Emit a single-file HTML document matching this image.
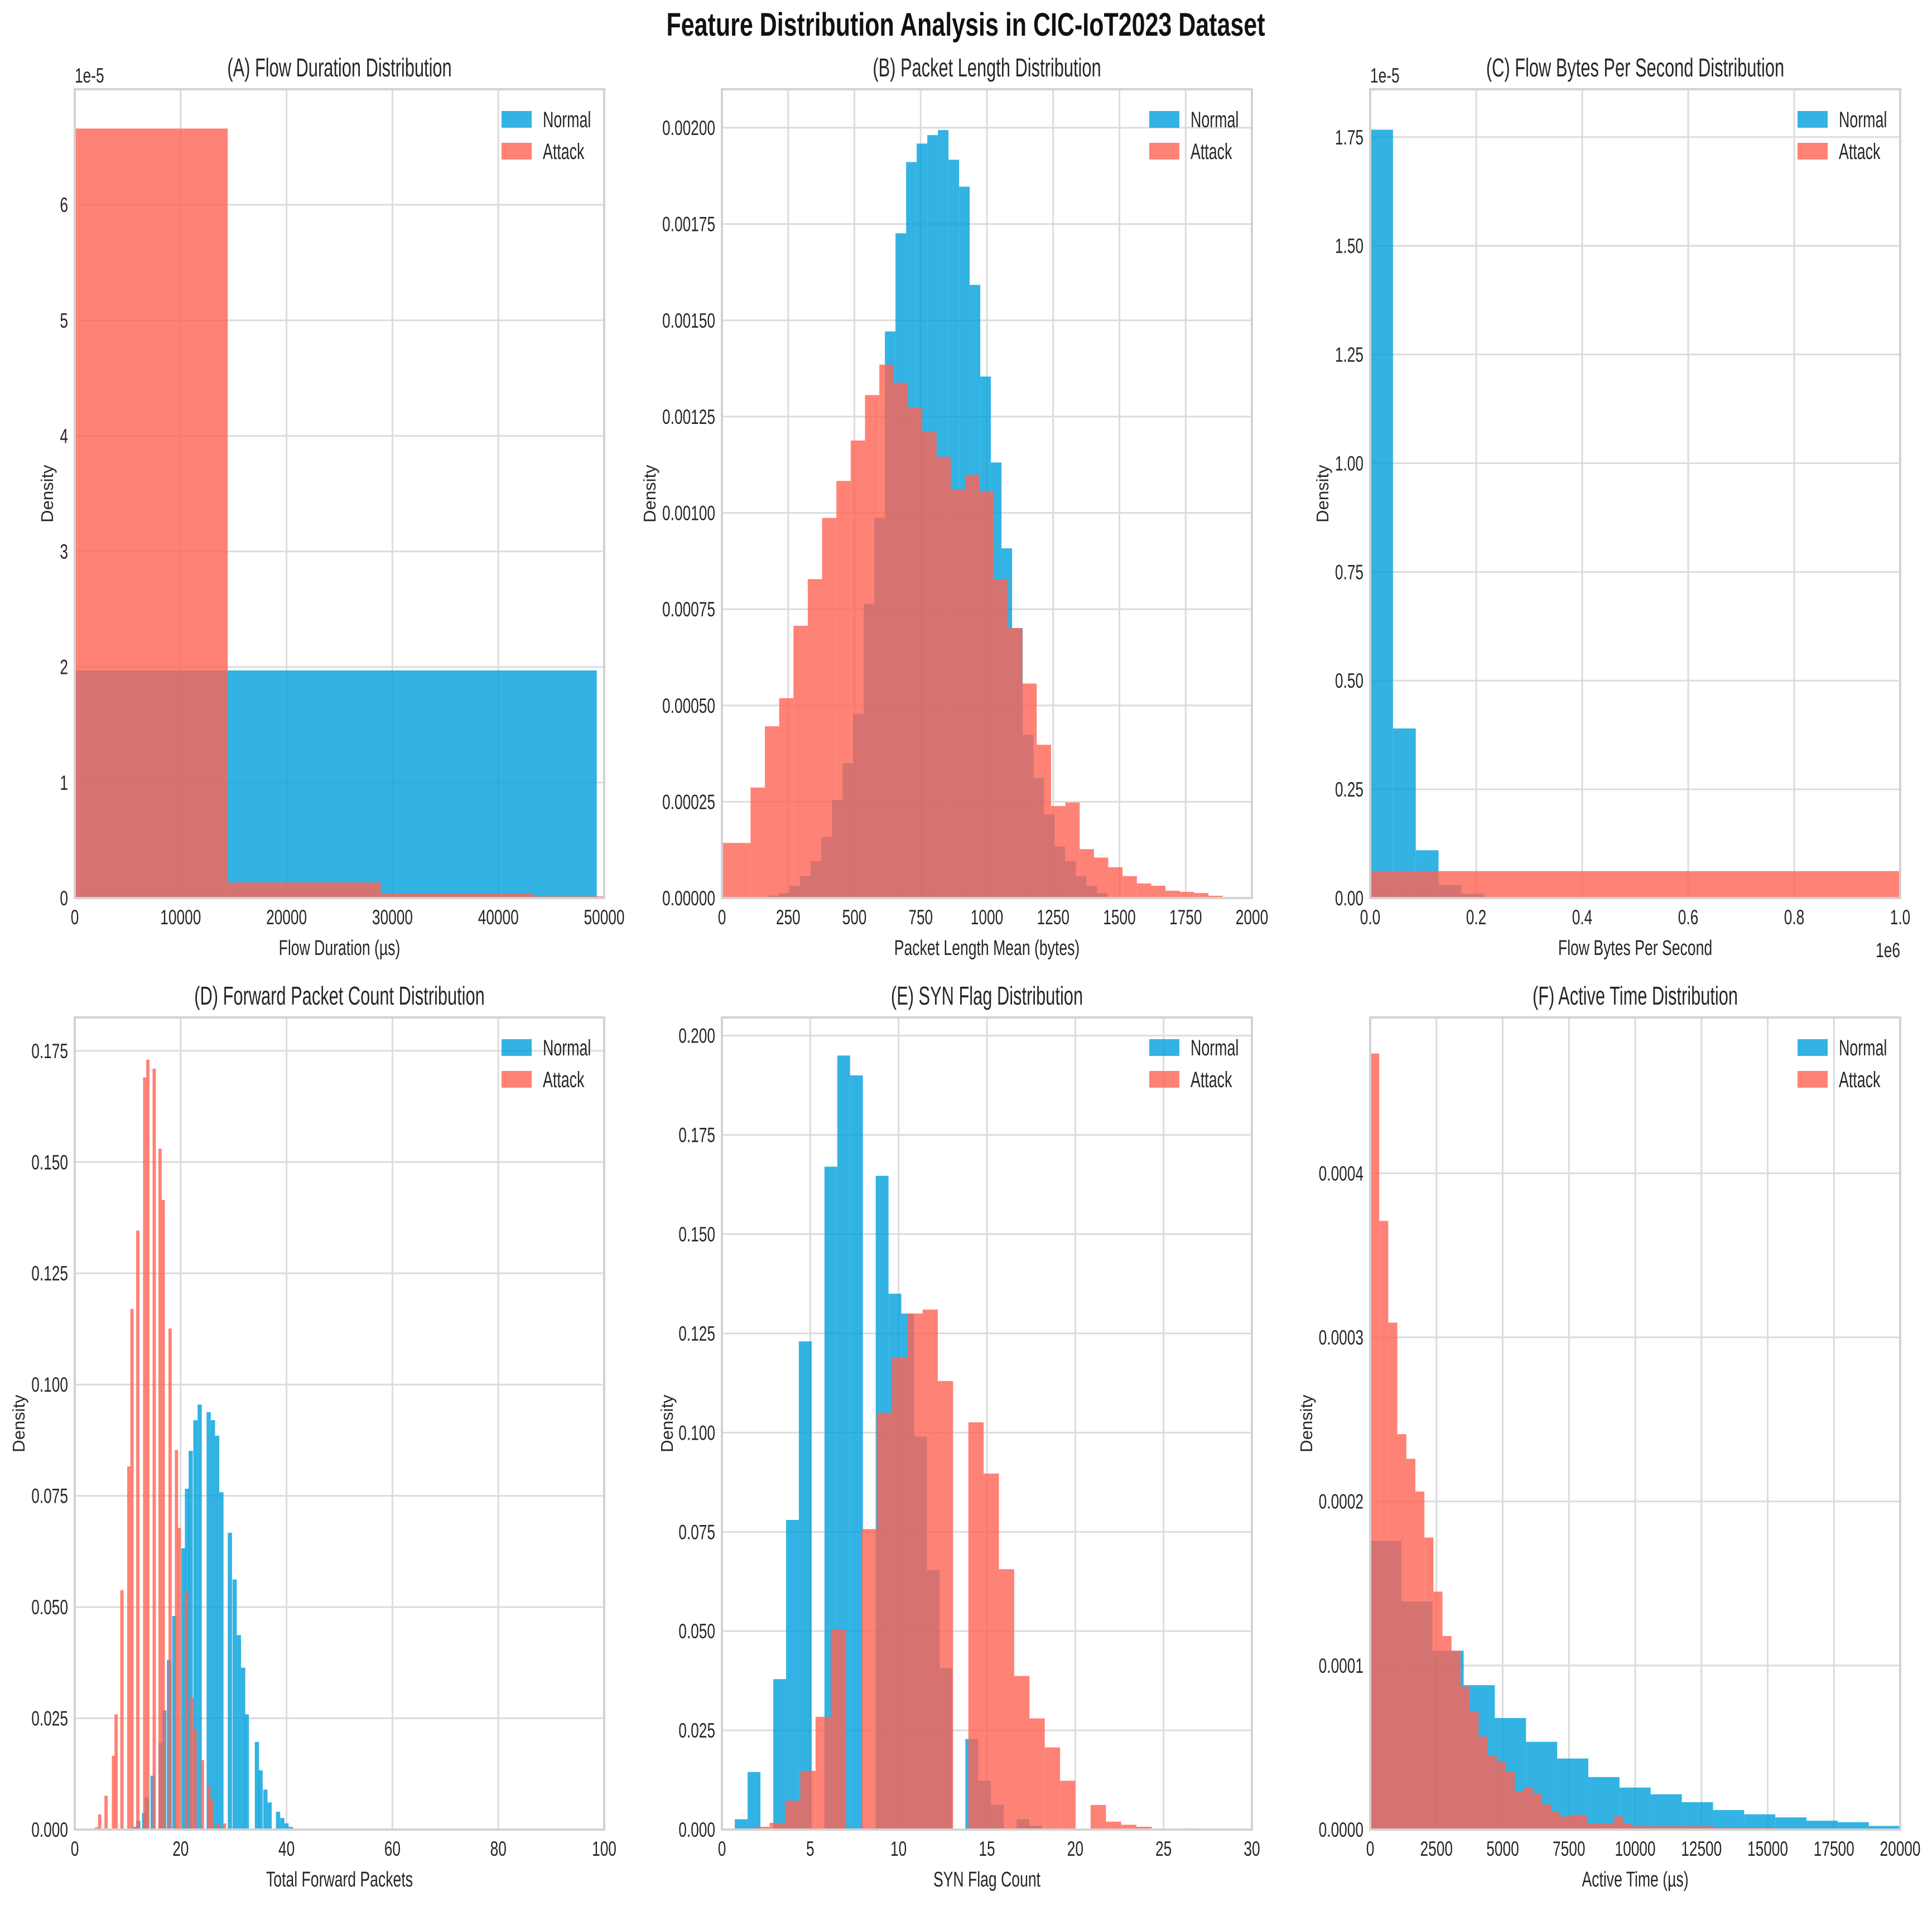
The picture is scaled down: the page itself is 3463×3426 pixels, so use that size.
<!DOCTYPE html>
<html><head><meta charset="utf-8"><title>Feature Distribution Analysis in CIC-IoT2023 Dataset</title>
<style>
html,body{margin:0;padding:0;background:#fff;}
svg{display:block;font-family:"Liberation Sans",sans-serif;}
</style></head>
<body>
<svg id="fig" xmlns="http://www.w3.org/2000/svg" width="3463" height="3426" viewBox="0 0 3463 3426"></svg>
<script>
// ---------- DATA ----------
const aNormalStart = 0, aNormalWidth = 49300;
const aNormalValues = [1.97];
const aAttackStart = 0, aAttackWidth = 14450;
const aAttackValues = [6.66, 0.135, 0.04, 0.015];
const aXTicks = [0, 10000, 20000, 30000, 40000, 50000];
const aXTickLabels = ["0", "10000", "20000", "30000", "40000", "50000"];
const aYTicks = [0, 1, 2, 3, 4, 5, 6];
const aYTickLabels = ["0", "1", "2", "3", "4", "5", "6"];

const bNormalStart = 175, bNormalWidth = 40;
const bNormalValues = [0.06e-4,0.13e-4,0.32e-4,0.57e-4,0.96e-4,1.59e-4,2.55e-4,3.50e-4,4.78e-4,7.64e-4,9.87e-4,14.71e-4,17.26e-4,19.11e-4,19.59e-4,19.81e-4,19.94e-4,19.17e-4,18.47e-4,15.92e-4,13.54e-4,11.31e-4,9.08e-4,7.01e-4,4.24e-4,3.12e-4,2.17e-4,1.34e-4,0.96e-4,0.57e-4,0.32e-4,0.13e-4];
const bAttackStart = 0, bAttackWidth = 54;
const bAttackValues = [1.43e-4,1.43e-4,2.87e-4,4.46e-4,5.19e-4,7.07e-4,8.28e-4,9.87e-4,10.83e-4,11.88e-4,13.06e-4,13.85e-4,13.38e-4,12.74e-4,12.10e-4,11.46e-4,10.61e-4,10.99e-4,10.57e-4,8.28e-4,7.01e-4,5.57e-4,3.98e-4,2.39e-4,2.48e-4,1.27e-4,1.05e-4,0.80e-4,0.57e-4,0.38e-4,0.32e-4,0.19e-4,0.16e-4,0.13e-4,0.06e-4];
const bXTicks = [0,250,500,750,1000,1250,1500,1750,2000];
const bXTickLabels = ["0","250","500","750","1000","1250","1500","1750","2000"];
const bYTicks = [0,0.00025,0.0005,0.00075,0.001,0.00125,0.0015,0.00175,0.002];
const bYTickLabels = ["0.00000","0.00025","0.00050","0.00075","0.00100","0.00125","0.00150","0.00175","0.00200"];

const cNormalStart = 0, cNormalWidth = 0.043;
const cNormalValues = [1.767, 0.39, 0.11, 0.03, 0.01];
const cAttackStart = 0, cAttackWidth = 1.0;
const cAttackValues = [0.062];
const cXTicks = [0, 0.2, 0.4, 0.6, 0.8, 1.0];
const cXTickLabels = ["0.0","0.2","0.4","0.6","0.8","1.0"];
const cYTicks = [0,0.25,0.5,0.75,1.0,1.25,1.5,1.75];
const cYTickLabels = ["0.00","0.25","0.50","0.75","1.00","1.25","1.50","1.75"];

const dNormalLefts = [11.1,11.6,12.7,13.2,14.3,15.8,16.5,17.4,18.4,20.1,20.8,21.5,22.4,23.2,24.9,25.7,26.5,27.3,28.9,29.8,30.6,31.4,32.1,34.0,34.7,35.6,36.4,38.0,38.8,39.6,40.4];
const dNormalWidth = 0.8;
const dNormalValues = [0.0006,0.002,0.0037,0.0072,0.0121,0.0195,0.0268,0.0381,0.048,0.0632,0.0766,0.0851,0.092,0.0955,0.0938,0.092,0.0885,0.0758,0.0667,0.0562,0.0437,0.0364,0.0259,0.0197,0.0133,0.009,0.0061,0.004,0.0026,0.0014,0.0006];
const dAttackLefts = [3.8,4.4,5.6,7.0,7.5,8.6,9.9,10.5,11.6,12.9,13.5,14.7,15.8,16.4,17.7,18.9,19.4,20.8,21.8,22.4,23.8,25.0,25.5,26.8,28.0];
const dAttackWidth = 0.62;
const dAttackValues = [0.0005,0.0034,0.0076,0.0166,0.0259,0.0538,0.0816,0.117,0.1346,0.169,0.173,0.171,0.153,0.1415,0.1126,0.0853,0.0678,0.0535,0.0296,0.0226,0.0156,0.0098,0.0069,0.0014,0.0014];
const dXTicks = [0,20,40,60,80,100];
const dXTickLabels = ["0","20","40","60","80","100"];
const dYTicks = [0,0.025,0.05,0.075,0.1,0.125,0.15,0.175];
const dYTickLabels = ["0.000","0.025","0.050","0.075","0.100","0.125","0.150","0.175"];

const eNormalStart = 0.73, eNormalWidth = 0.725;
const eNormalValues = [0.0026,0.0145,0,0.0379,0.078,0.123,0,0.167,0.195,0.190,0,0.1647,0.135,0.13,0.099,0.0654,0.0407,0,0.0228,0.0123,0.0063,0,0.0026,0.001];
const eAttackStart = 1.84, eAttackWidth = 0.865;
const eAttackValues = [0.0007,0.0017,0.0073,0.0148,0.0284,0.0504,0,0.0757,0.105,0.119,0.130,0.131,0.113,0,0.1026,0.0897,0.0656,0.0387,0.028,0.0207,0.0123,0,0.0062,0.002,0.0012,0.0007,0,0,0.0003];
const eXTicks = [0,5,10,15,20,25,30];
const eXTickLabels = ["0","5","10","15","20","25","30"];
const eYTicks = [0,0.025,0.05,0.075,0.1,0.125,0.15,0.175,0.2];
const eYTickLabels = ["0.000","0.025","0.050","0.075","0.100","0.125","0.150","0.175","0.200"];

const fNormalStart = 0, fNormalWidth = 1176;
const fNormalValues = [0.000176,0.000139,0.000109,0.000088,0.000068,0.0000535,0.0000433,0.000032,0.0000256,0.0000215,0.0000167,0.0000119,0.0000093,0.0000074,0.0000054,0.0000045,0.0000022];
const fAttackStart = 0, fAttackWidth = 341;
const fAttackValues = [0.000473,0.000371,0.000309,0.000241,0.000226,0.000206,0.000178,0.000145,0.000118,0.000109,0.0000872,0.0000721,0.0000567,0.0000449,0.0000417,0.0000353,0.0000231,0.0000256,0.0000218,0.0000154,0.0000112,0.000008,0.000009,0.000009,0.0000038,0.0000035,0.0000035,0.000008,0.0000035,0.000002,0.000002,0.000002,0.000002,0.000002,0.000002,0.000002,0.000002,0.000002,0.000001,0.000001,0.000001,0.000001,0.000001,0.000001,0.000001];
const fXTicks = [0,2500,5000,7500,10000,12500,15000,17500,20000];
const fXTickLabels = ["0","2500","5000","7500","10000","12500","15000","17500","20000"];
const fYTicks = [0,0.0001,0.0002,0.0003,0.0004];
const fYTickLabels = ["0.0000","0.0001","0.0002","0.0003","0.0004"];

// ---------- RENDER ----------
const NS = "http://www.w3.org/2000/svg";
const svg = document.getElementById("fig");
const BLUE = "rgba(0,160,220,0.8)";
const RED = "rgba(255,99,84,0.8)";

function mk(tag, attrs, parent) {
  const el = document.createElementNS(NS, tag);
  for (const k in attrs) el.setAttribute(k, attrs[k]);
  (parent || svg).appendChild(el);
  return el;
}
function label(parent, str, x, y, size, anchor, sx) {
  const t = mk("text", {x: 0, y: 0, "font-size": size, fill: "#262626", "text-anchor": anchor,
    transform: "translate(" + x + "," + y + ") scale(" + sx + ",1)"}, parent);
  t.textContent = str;
  return t;
}

const mainTitle = mk("text", {x: 1731, y: 64, "font-size": 58, "font-weight": "bold", fill: "#111",
  "text-anchor": "middle", textLength: 1073, lengthAdjust: "spacingAndGlyphs"});
mainTitle.textContent = "Feature Distribution Analysis in CIC-IoT2023 Dataset";



const panels = [
  {key:"a", title:"(A) Flow Duration Distribution", xlabel:"Flow Duration (µs)", x0:134, x1:1083, y0:160, y1:1610, xmax:50000, ymax:7.0, ylx:84, offset:"1e-5",
   xt:aXTicks, xtl:aXTickLabels, yt:aYTicks, ytl:aYTickLabels,
   series:[{name:"normal", color:BLUE, start:aNormalStart, width:aNormalWidth, values:aNormalValues},
           {name:"attack", color:RED, start:aAttackStart, width:aAttackWidth, values:aAttackValues}]},
  {key:"b", title:"(B) Packet Length Distribution", xlabel:"Packet Length Mean (bytes)", x0:1294, x1:2244, y0:160, y1:1610, xmax:2000, ymax:0.0021, ylx:1164,
   xt:bXTicks, xtl:bXTickLabels, yt:bYTicks, ytl:bYTickLabels,
   series:[{name:"normal", color:BLUE, start:bNormalStart, width:bNormalWidth, values:bNormalValues},
           {name:"attack", color:RED, start:bAttackStart, width:bAttackWidth, values:bAttackValues}]},
  {key:"c", title:"(C) Flow Bytes Per Second Distribution", xlabel:"Flow Bytes Per Second", x0:2456, x1:3406, y0:160, y1:1610, xmax:1.0, ymax:1.86, ylx:2370, offset:"1e-5", xoffset:"1e6",
   xt:cXTicks, xtl:cXTickLabels, yt:cYTicks, ytl:cYTickLabels,
   series:[{name:"normal", color:BLUE, start:cNormalStart, width:cNormalWidth, values:cNormalValues},
           {name:"attack", color:RED, start:cAttackStart, width:cAttackWidth, values:cAttackValues}]},
  {key:"d", title:"(D) Forward Packet Count Distribution", xlabel:"Total Forward Packets", x0:134, x1:1083, y0:1824, y1:3280, xmax:100, ymax:0.1825, ylx:33,
   xt:dXTicks, xtl:dXTickLabels, yt:dYTicks, ytl:dYTickLabels,
   series:[{name:"normal", color:BLUE, lefts:dNormalLefts, width:dNormalWidth, values:dNormalValues},
           {name:"attack", color:RED, lefts:dAttackLefts, width:dAttackWidth, values:dAttackValues}]},
  {key:"e", title:"(E) SYN Flag Distribution", xlabel:"SYN Flag Count", x0:1294, x1:2244, y0:1824, y1:3280, xmax:30, ymax:0.2046, ylx:1195,
   xt:eXTicks, xtl:eXTickLabels, yt:eYTicks, ytl:eYTickLabels,
   series:[{name:"normal", color:BLUE, start:eNormalStart, width:eNormalWidth, values:eNormalValues},
           {name:"attack", color:RED, start:eAttackStart, width:eAttackWidth, values:eAttackValues}]},
  {key:"f", title:"(F) Active Time Distribution", xlabel:"Active Time (µs)", x0:2456, x1:3406, y0:1824, y1:3280, xmax:20000, ymax:0.000495, ylx:2341,
   xt:fXTicks, xtl:fXTickLabels, yt:fYTicks, ytl:fYTickLabels,
   series:[{name:"normal", color:BLUE, start:fNormalStart, width:fNormalWidth, values:fNormalValues},
           {name:"attack", color:RED, start:fAttackStart, width:fAttackWidth, values:fAttackValues}]}
];

panels.forEach(p => {
  const g = mk("g", {});
  
  
  const xs = v => p.x0 + (v / p.xmax) * (p.x1 - p.x0);
  const ys = v => p.y1 - (v / p.ymax) * (p.y1 - p.y0);

  const bg = mk("rect", {x:p.x0, y:p.y0, width:p.x1-p.x0, height:p.y1-p.y0, fill:"#fff"}, g);
  
  

  p.xt.forEach(t => {
    const l = mk("line", {x1:xs(t), x2:xs(t), y1:p.y0, y2:p.y1, stroke:"#dcdcdc", "stroke-width":3}, g);
    
    
  });
  p.yt.forEach(t => {
    const l = mk("line", {x1:p.x0, x2:p.x1, y1:ys(t), y2:ys(t), stroke:"#dcdcdc", "stroke-width":3}, g);
    
    
  });

  const clipId = "clip-" + p.key;
  const cp = mk("clipPath", {id: clipId}, g);
  mk("rect", {x:p.x0, y:p.y0, width:p.x1-p.x0, height:p.y1-p.y0}, cp);
  p.series.forEach(s => {
    const sg = mk("g", {"clip-path": "url(#" + clipId + ")"}, g);
    
    
    s.values.forEach((v, i) => {
      if (v <= 0) return;
      const left = s.lefts ? s.lefts[i] : s.start + i * s.width;
      const xa = xs(left), xb = xs(left + s.width);
      const r = mk("rect", {x:xa, y:ys(v), width:Math.max(0, xb - xa), height:p.y1 - ys(v), fill:s.color}, sg);
      
      
    });
  });

  const fr = mk("rect", {x:p.x0, y:p.y0, width:p.x1-p.x0, height:p.y1-p.y0, fill:"none", stroke:"#d2d2d2", "stroke-width":4}, g);
  
  

  p.xt.forEach((t, i) => {
    const tl = label(g, p.xtl[i], xs(t), p.y1 + 47, 37, "middle", 0.71);
    
    
  });
  p.yt.forEach((t, i) => {
    const tl = label(g, p.ytl[i], p.x0 - 12, ys(t) + 13, 37, "end", 0.71);
    
    
  });
  if (p.offset) {
    const o = label(g, p.offset, p.x0, p.y0 - 12, 37, "start", 0.71);
    
    
  }
  if (p.xoffset) {
    const o = label(g, p.xoffset, p.x1, p.y1 + 106, 37, "end", 0.71);
    
    
  }

  const ti = label(g, p.title, (p.x0 + p.x1) / 2, p.y0 - 23, 46, "middle", 0.67);
  
  
  const xl = label(g, p.xlabel, (p.x0 + p.x1) / 2, p.y1 + 102, 38, "middle", 0.7);
  
  
  const yl = mk("text", {x:0, y:0, "font-size":31, fill:"#262626", "text-anchor":"middle",
    transform:"translate(" + (p.ylx + 11) + "," + ((p.y0 + p.y1) / 2) + ") rotate(-90)"}, g);
  yl.textContent = "Density";
  
  

  const lg = mk("g", {}, g);
  
  
  const entries = [["Normal", BLUE], ["Attack", RED]];
  entries.forEach((e, i) => {
    const py = p.y0 + 39 + i * 57;
    const sw = mk("rect", {x:p.x1 - 184, y:py, width:54, height:30, fill:e[1]}, lg);
    
    
    const lt = label(lg, e[0], p.x1 - 110, py + 29, 40, "start", 0.67);
    
    
  });
});
</script>
</body></html>
